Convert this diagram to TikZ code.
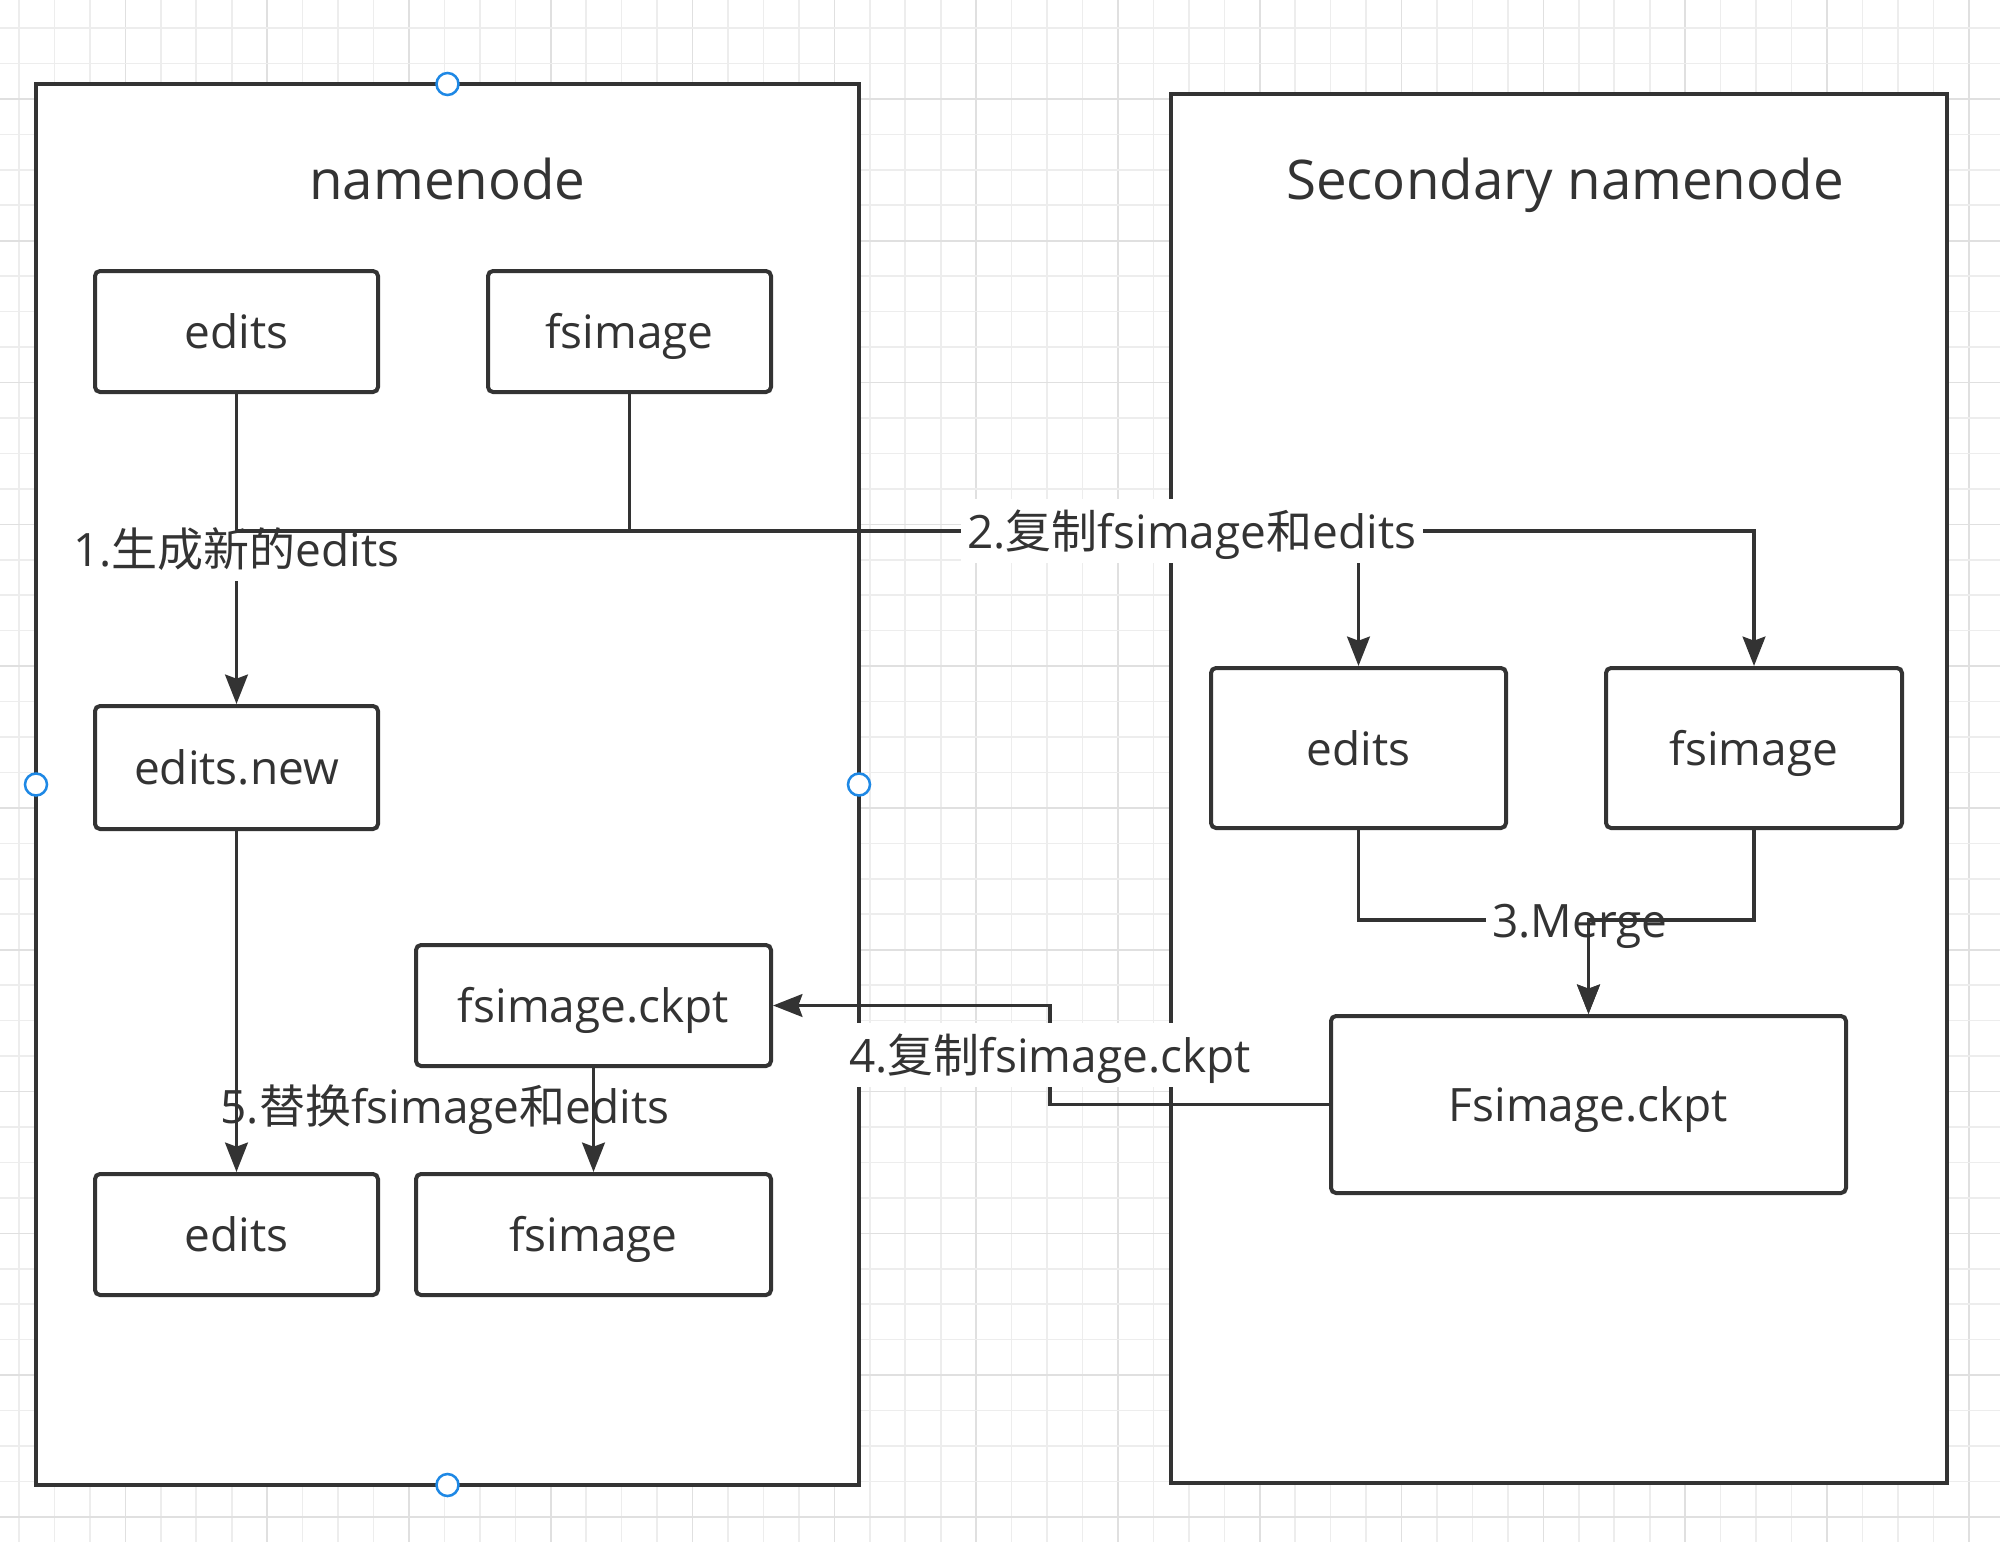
\documentclass[tikz,border=0pt]{standalone}
\usepackage{fontspec}
\setmainfont{Open Sans}
\newfontfamily\cjk{Noto Sans CJK SC}
\usetikzlibrary{arrows.meta,calc}
\definecolor{ink}{HTML}{333333}
\definecolor{gridminor}{HTML}{EDEDED}
\definecolor{gridmajor}{HTML}{E0E0E0}
\definecolor{handleblue}{HTML}{1E88E5}
\begin{document}
\begin{tikzpicture}[x=0.75pt,y=-0.75pt,
  container/.style 2 args={draw=ink, line width=3.3pt, fill=white,
    minimum width=#1*0.75pt, minimum height=#2*0.75pt, inner sep=0pt, outer sep=0pt},
  box/.style 2 args={draw=ink, line width=3pt, fill=white, rounded corners=3.75pt,
    minimum width=#1*0.75pt, minimum height=#2*0.75pt, inner sep=0pt, text=ink,
    font=\fontsize{34.5pt}{40pt}\selectfont, text height=34.5pt, text depth=9pt},
  title/.style={text=ink, font=\fontsize{41pt}{48pt}\selectfont, anchor=base, inner sep=0pt},
  lbl/.style={fill=white, text=ink, font=\fontsize{34.5pt}{40pt}\selectfont,
    inner xsep=5pt, inner ysep=2pt, text height=34.5pt, text depth=9pt},
  freelbl/.style={text=ink, font=\fontsize{34.5pt}{40pt}\selectfont,
    inner sep=0pt, text height=34.5pt, text depth=9pt},
  conn/.style={draw=ink, line width=2.8pt},
  arr/.style={conn, -{Stealth[length=22pt 0 0, width=17pt 0 0, inset=3pt 0 0]}},
  handle/.style={circle, draw=handleblue, line width=1.9pt, fill=white,
    minimum size=16.5pt, inner sep=0pt}
]
% canvas
\useasboundingbox (0,0) rectangle (2000,1542);
\fill[white] (0,0) rectangle (2000,1542);
% grid
\foreach \i in {0,...,56}{
  \pgfmathsetmacro{\gx}{19+\i*35.45}
  \pgfmathtruncatemacro{\m}{mod(\i,4)}
  \ifnum\m=3
    \draw[gridmajor, line width=1.2pt] (\gx,0) -- (\gx,1542);
  \else
    \draw[gridminor, line width=1.2pt] (\gx,0) -- (\gx,1542);
  \fi
}
\foreach \j in {0,...,43}{
  \pgfmathsetmacro{\gy}{28+\j*35.45}
  \pgfmathtruncatemacro{\m}{mod(\j,4)}
  \ifnum\m=2
    \draw[gridmajor, line width=1.2pt] (0,\gy) -- (2000,\gy);
  \else
    \draw[gridminor, line width=1.2pt] (0,\gy) -- (2000,\gy);
  \fi
}

% containers
\node[container={823}{1401}] (nn) at (447.5,784.5) {};
\node[container={776}{1389}] (snn) at (1559,788.5) {};
\node[title] (t1) at (447.5,199) {namenode};
\node[title] (t2) at (1565,199) {Secondary namenode};

% boxes left
\node[box={283}{121}] (e1) at (236.5,331.5) {edits};
\node[box={283}{121}] (f1) at (629.5,331.5) {fsimage};
\node[box={283}{123}] (en) at (236.5,767.5) {edits.new};
\node[box={355}{121}] (ck) at (593.5,1005.5) {fsimage.ckpt};
\node[box={283}{121}] (e3) at (236.5,1234.5) {edits};
\node[box={355}{121}] (f3) at (593.5,1234.5) {fsimage};
% boxes right
\node[box={295}{160}] (e2) at (1358.5,748) {edits};
\node[box={296}{160}] (f2) at (1754,748) {fsimage};
\node[box={515}{177}] (FC) at (1588.5,1104.5) {Fsimage.ckpt};

\coordinate (bus) at (0,531);
\coordinate (mg) at (0,920);
\coordinate (c4) at (1050,0);

% 1
\draw[arr] (e1.south) -- node[lbl] (l1) {1.{\cjk 生成新的}edits} (en.north);
% 2
\draw[arr] (e1.south) -- (e1.south |- bus) -| (e2.north);
\draw[arr] (f1.south) -- (f1.south |- bus) -- node[lbl] (l2) {2.{\cjk 复制}fsimage{\cjk 和}edits} (f2.north |- bus) -- (f2.north);
% 3
\draw[arr] (e2.south) -- (e2.south |- mg) -- node[lbl, pos=0.963] (l3) {3.Merge} (FC.north |- mg) -- (FC.north);
\draw[arr] (f2.south) -- (f2.south |- mg) -- (FC.north |- mg) -- (FC.north);
% 4
\draw[arr] (FC.west) -- (FC.west -| c4) -- node[lbl] (l4) {4.{\cjk 复制}fsimage.ckpt} (ck.east -| c4) -- (ck.east);
% 5
\node[freelbl] (l5) at (445,1106) {5.{\cjk 替换}fsimage{\cjk 和}edits};
\draw[arr] (en.south) -- (e3.north);
\draw[arr] (ck.south) -- (f3.north);

% selection handles
\node[handle] (h1) at (nn.north) {};
\node[handle] (h2) at (nn.south) {};
\node[handle] (h3) at (nn.west) {};
\node[handle] (h4) at (nn.east) {};
\end{tikzpicture}
\end{document}
